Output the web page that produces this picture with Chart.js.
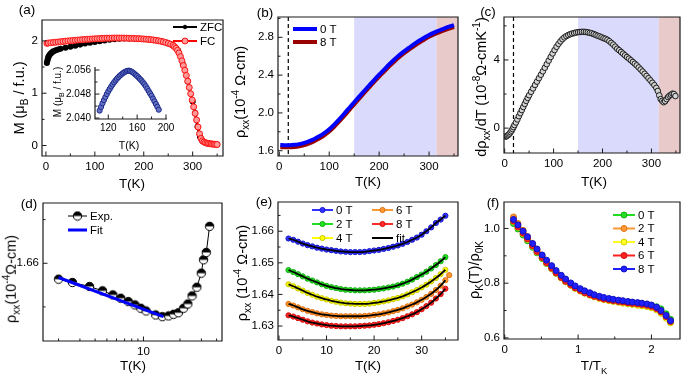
<!DOCTYPE html>
<html>
<head>
<meta charset="utf-8">
<script src="https://cdn.jsdelivr.net/npm/chart.js@4.4.1/dist/chart.umd.min.js"></script>
<style>
  body { margin: 0; background: #fff; }
  #fig { position: relative; width: 685px; height: 376px; overflow: hidden; font-family: "Liberation Sans", Arial, sans-serif; color: #000; }
  #fig canvas { position: absolute; left: 0; top: 0; }
  .lbl { position: absolute; white-space: nowrap; transform: translate(-50%, -50%); line-height: 1; font-size: 13.5px; }
  .rot { transform: translate(-50%, -50%) rotate(-90deg); font-size: 14.5px; }
  sub, sup { font-size: 70%; line-height: 0; }
</style>
</head>
<body>
<div id="fig">
  <canvas id="ca" width="685" height="376"></canvas>
  <canvas id="cin" width="685" height="376"></canvas>
  <canvas id="cb" width="685" height="376"></canvas>
  <canvas id="cc" width="685" height="376"></canvas>
  <canvas id="cd" width="685" height="376"></canvas>
  <canvas id="ce" width="685" height="376"></canvas>
  <canvas id="cf" width="685" height="376"></canvas>

  <div class="lbl" style="left:27px;top:10px">(a)</div>
  <div class="lbl rot" style="left:19px;top:98px">M (μ<sub>B</sub> / f.u.)</div>
  <div class="lbl" style="left:132px;top:184px">T(K)</div>
  <div class="lbl rot" style="left:58px;top:92px;font-size:10px">M (μ<sub>B</sub> / f.u.)</div>
  <div class="lbl" style="left:129px;top:145px;font-size:10.5px">T(K)</div>

  <div class="lbl" style="left:265px;top:13px">(b)</div>
  <div class="lbl rot" style="left:240px;top:92px">ρ<sub>xx</sub>(10<sup>-4</sup> Ω-cm)</div>
  <div class="lbl" style="left:368px;top:182px">T(K)</div>

  <div class="lbl" style="left:488px;top:12px">(c)</div>
  <div class="lbl rot" style="left:481px;top:87px">dρ<sub>xx</sub>/dT (10<sup>-8</sup>Ω-cmK<sup>-1</sup>)</div>
  <div class="lbl" style="left:594px;top:182px">T(K)</div>

  <div class="lbl" style="left:29px;top:204px">(d)</div>
  <div class="lbl rot" style="left:11px;top:279px">ρ<sub>xx</sub>(10<sup>-4</sup>Ω-cm)</div>
  <div class="lbl" style="left:133px;top:366px">T(K)</div>

  <div class="lbl" style="left:264px;top:202px">(e)</div>
  <div class="lbl rot" style="left:242px;top:273px">ρ<sub>xx</sub> (10<sup>-4</sup> Ω-cm)</div>
  <div class="lbl" style="left:368px;top:366px">T(K)</div>

  <div class="lbl" style="left:493px;top:203px">(f)</div>
  <div class="lbl rot" style="left:474px;top:270px">ρ<sub>K</sub>(T)/ρ<sub>0K</sub></div>
  <div class="lbl" style="left:594px;top:366px">T/T<sub>K</sub></div>
</div>

<script>
// (a) M vs T, ZFC / FC
const tFc = [2, 5, 10, 15, 20, 25, 30, 35, 40, 45, 50, 55, 60, 65, 70, 75, 80, 85, 90, 95, 100, 105, 110, 115, 120, 125, 130, 135, 140, 145, 150, 155, 160, 165, 170, 175, 180, 185, 190, 195, 200, 205, 210, 215, 220, 225, 230, 235, 240, 245, 250, 255, 260, 263, 266, 269, 272, 275, 278, 281, 284, 287, 290, 293, 296, 299, 302, 305, 308, 311, 314, 317, 320, 323, 326, 329, 332, 335, 338, 341, 344, 347, 350];
const mFc = [1.955, 1.96, 1.965, 1.97, 1.975, 1.98, 1.985, 1.99, 1.995, 2.0, 2.004, 2.008, 2.012, 2.016, 2.02, 2.024, 2.028, 2.031, 2.034, 2.037, 2.04, 2.043, 2.046, 2.048, 2.05, 2.052, 2.053, 2.054, 2.055, 2.056, 2.056, 2.055, 2.054, 2.053, 2.051, 2.049, 2.047, 2.045, 2.043, 2.04, 2.037, 2.033, 2.029, 2.024, 2.018, 2.011, 2.003, 1.994, 1.983, 1.97, 1.955, 1.937, 1.915, 1.89, 1.86, 1.82, 1.77, 1.70, 1.62, 1.53, 1.44, 1.34, 1.23, 1.11, 0.99, 0.87, 0.74, 0.615, 0.49, 0.355, 0.225, 0.135, 0.09, 0.067, 0.055, 0.046, 0.04, 0.035, 0.031, 0.028, 0.025, 0.022, 0.02];
const tZfc = [2, 3, 4, 5, 6, 8, 10, 12, 15, 20, 25, 30, 40, 50, 60, 70, 80, 90, 100, 110, 120, 130, 140, 150, 160, 170, 180, 190, 200, 210, 220, 230, 240, 250, 260, 270, 280, 290, 300, 305, 310, 315, 320, 330, 340, 350];
const mZfc = [1.58, 1.62, 1.66, 1.69, 1.71, 1.74, 1.76, 1.78, 1.80, 1.82, 1.835, 1.85, 1.87, 1.89, 1.91, 1.93, 1.95, 1.965, 1.98, 1.995, 2.01, 2.022, 2.033, 2.042, 2.046, 2.046, 2.044, 2.04, 2.035, 2.027, 2.016, 2.001, 1.981, 1.952, 1.91, 1.815, 1.555, 1.225, 0.84, 0.62, 0.36, 0.17, 0.085, 0.04, 0.028, 0.02];
// inset of (a)
const tIn = [108, 110, 112, 114, 116, 118, 120, 122, 124, 126, 128, 130, 132, 134, 136, 138, 140, 142, 144, 146, 148, 150, 152, 154, 156, 158, 160, 162, 164, 166, 168, 170, 172, 174, 176, 178, 180, 182, 184, 186, 188, 190];
const mIn = [2.0425, 2.0437, 2.0449, 2.0460, 2.0470, 2.0480, 2.0489, 2.0497, 2.0505, 2.0512, 2.0519, 2.0525, 2.0531, 2.0536, 2.0541, 2.0545, 2.0549, 2.0552, 2.0555, 2.0557, 2.0558, 2.0557, 2.0555, 2.0552, 2.0548, 2.0544, 2.0540, 2.0535, 2.0530, 2.0525, 2.0519, 2.0513, 2.0506, 2.0498, 2.0490, 2.0482, 2.0474, 2.0465, 2.0456, 2.0447, 2.0438, 2.0428];

// (b) rho_xx vs T at 0 T and 8 T
const tB = [2, 10, 20, 30, 40, 50, 60, 70, 80, 90, 100, 110, 120, 130, 140, 150, 160, 170, 180, 190, 200, 210, 220, 230, 240, 250, 260, 270, 280, 290, 300, 310, 320, 330, 340, 350];
const rho0T = [1.660, 1.659, 1.659, 1.662, 1.670, 1.683, 1.701, 1.724, 1.752, 1.786, 1.826, 1.876, 1.932, 1.991, 2.052, 2.113, 2.173, 2.232, 2.290, 2.348, 2.404, 2.458, 2.513, 2.563, 2.610, 2.652, 2.690, 2.728, 2.763, 2.795, 2.825, 2.850, 2.872, 2.893, 2.912, 2.930];
const rho8T = [1.637, 1.636, 1.636, 1.639, 1.647, 1.660, 1.678, 1.701, 1.729, 1.763, 1.803, 1.853, 1.909, 1.968, 2.029, 2.090, 2.151, 2.211, 2.270, 2.328, 2.384, 2.438, 2.492, 2.542, 2.589, 2.631, 2.670, 2.708, 2.743, 2.775, 2.805, 2.830, 2.852, 2.873, 2.892, 2.910];

// (c) d rho / dT
const tC = [2, 4, 6, 8, 10, 12, 14, 16, 18, 20, 23, 26, 29, 32, 35, 38, 41, 44, 47, 50, 54, 58, 62, 66, 70, 74, 78, 82, 86, 90, 94, 98, 102, 106, 110, 114, 118, 122, 126, 130, 134, 138, 142, 146, 150, 154, 158, 162, 166, 170, 174, 178, 182, 186, 190, 194, 198, 202, 206, 210, 214, 218, 222, 226, 230, 234, 238, 242, 246, 250, 254, 258, 262, 266, 270, 274, 278, 282, 286, 290, 294, 298, 302, 306, 310, 313, 316, 319, 322, 325, 328, 331, 334, 337, 340, 343, 346, 349];
const dRho = [-0.50, -0.47, -0.43, -0.38, -0.32, -0.24, -0.15, -0.05, 0.06, 0.18, 0.33, 0.51, 0.70, 0.88, 1.06, 1.24, 1.42, 1.60, 1.77, 1.93, 2.13, 2.33, 2.53, 2.73, 2.93, 3.13, 3.33, 3.54, 3.75, 3.96, 4.17, 4.38, 4.58, 4.77, 4.94, 5.09, 5.22, 5.32, 5.40, 5.46, 5.51, 5.55, 5.58, 5.61, 5.63, 5.64, 5.65, 5.65, 5.64, 5.62, 5.59, 5.56, 5.52, 5.47, 5.42, 5.38, 5.33, 5.28, 5.24, 5.18, 5.10, 5.00, 4.90, 4.78, 4.66, 4.57, 4.47, 4.37, 4.27, 4.17, 4.08, 3.98, 3.88, 3.78, 3.68, 3.56, 3.44, 3.32, 3.19, 3.06, 2.93, 2.80, 2.66, 2.52, 2.36, 2.18, 1.92, 1.70, 1.60, 1.52, 1.58, 1.70, 1.82, 1.90, 1.96, 2.02, 2.00, 1.88];
const bandaAzul = [150, 315];
const bandaRoja = [315, 360];
const tLinea = 18;

// (d) low T upturn, log scale
const tD = [2.0, 2.6, 3.6, 4.6, 5.6, 6.5, 7.5, 8.5, 9.5, 10.5, 12.6, 14.3, 16.1, 17.7, 19.4, 21.4, 23.2, 25.1, 27.5, 29.9, 31.2, 32.9, 35.0];
const rhoD = [1.65818, 1.6578, 1.65734, 1.65684, 1.65638, 1.656, 1.65561, 1.65523, 1.65485, 1.65454, 1.65408, 1.65389, 1.65397, 1.65416, 1.65434, 1.65485, 1.65534, 1.65626, 1.65726, 1.65887, 1.6604, 1.66124, 1.66423];
const tFit = [2.0, 14.6];
const rhoFit = [1.65837, 1.65389];

// (e) rho_xx at several fields
const campos = ['0 T', '2 T', '4 T', '6 T', '8 T'];
const tE = [2, 3, 4, 5, 6, 7, 8, 9, 10, 11, 12, 13, 14, 15, 16, 17, 18, 19, 20, 21, 22, 23, 24, 25, 26, 27, 28, 29, 30, 31, 32, 33, 34, 35];
const e0 = [1.6577, 1.6573, 1.6567, 1.6561, 1.6556, 1.6552, 1.6548, 1.6545, 1.6542, 1.6540, 1.6538, 1.6536, 1.6535, 1.6534, 1.6534, 1.6534, 1.6535, 1.6537, 1.6539, 1.6541, 1.6544, 1.6547, 1.6551, 1.6555, 1.6560, 1.6566, 1.6573, 1.6580, 1.6589, 1.6600, 1.6612, 1.6626, 1.6637, 1.6649];
const e2 = [1.6477, 1.6471, 1.6464, 1.6457, 1.6450, 1.6444, 1.6438, 1.6432, 1.6427, 1.6423, 1.6420, 1.6417, 1.6415, 1.6414, 1.6413, 1.6413, 1.6413, 1.6414, 1.6415, 1.6417, 1.6419, 1.6422, 1.6425, 1.6429, 1.6434, 1.6440, 1.6447, 1.6455, 1.6463, 1.6472, 1.6482, 1.6493, 1.6505, 1.6518];
const e4 = [1.6432, 1.6426, 1.6419, 1.6412, 1.6405, 1.6399, 1.6393, 1.6388, 1.6384, 1.6380, 1.6377, 1.6374, 1.6372, 1.6371, 1.6370, 1.6370, 1.6370, 1.6371, 1.6373, 1.6375, 1.6378, 1.6381, 1.6385, 1.6389, 1.6394, 1.6400, 1.6407, 1.6414, 1.6422, 1.6431, 1.6441, 1.6452, 1.6464, 1.6478];
const e6 = [1.6370, 1.6365, 1.6359, 1.6353, 1.6348, 1.6344, 1.6340, 1.6337, 1.6335, 1.6333, 1.6332, 1.6331, 1.6331, 1.6331, 1.6331, 1.6331, 1.6332, 1.6333, 1.6335, 1.6337, 1.6340, 1.6343, 1.6347, 1.6351, 1.6356, 1.6362, 1.6368, 1.6375, 1.6383, 1.6392, 1.6402, 1.6414, 1.6428, 1.6445];
const e8 = [1.6334, 1.6330, 1.6325, 1.6320, 1.6315, 1.6311, 1.6308, 1.6305, 1.6303, 1.6301, 1.6300, 1.6299, 1.6299, 1.6299, 1.6299, 1.6300, 1.6301, 1.6302, 1.6304, 1.6306, 1.6309, 1.6312, 1.6316, 1.6320, 1.6325, 1.6331, 1.6337, 1.6344, 1.6353, 1.6363, 1.6374, 1.6387, 1.6401, 1.6418];
const t6Extra = [35.8];
const e6Extra = [1.6461];

// (f) scaled Kondo term
const xF = [0.12, 0.18, 0.25, 0.31, 0.38, 0.44, 0.51, 0.57, 0.64, 0.70, 0.77, 0.83, 0.90, 0.96, 1.03, 1.09, 1.16, 1.22, 1.29, 1.35, 1.42, 1.48, 1.55, 1.61, 1.68, 1.74, 1.81, 1.87, 1.94, 2.00, 2.07, 2.13, 2.20, 2.26];
const f0 = [1.018, 0.998, 0.976, 0.955, 0.931, 0.911, 0.890, 0.872, 0.853, 0.836, 0.820, 0.806, 0.793, 0.782, 0.773, 0.765, 0.759, 0.753, 0.748, 0.744, 0.741, 0.738, 0.736, 0.734, 0.731, 0.729, 0.727, 0.725, 0.722, 0.719, 0.714, 0.706, 0.688, 0.668];
const f2 = [1.042, 1.018, 0.993, 0.970, 0.944, 0.922, 0.899, 0.879, 0.859, 0.841, 0.824, 0.810, 0.796, 0.785, 0.775, 0.767, 0.760, 0.754, 0.748, 0.744, 0.740, 0.737, 0.734, 0.732, 0.729, 0.727, 0.725, 0.723, 0.720, 0.716, 0.708, 0.696, 0.678, 0.660];
const f4 = [1.025, 1.004, 0.981, 0.960, 0.935, 0.914, 0.892, 0.873, 0.853, 0.836, 0.819, 0.805, 0.792, 0.781, 0.771, 0.763, 0.756, 0.750, 0.744, 0.740, 0.736, 0.733, 0.730, 0.727, 0.724, 0.722, 0.719, 0.717, 0.714, 0.710, 0.702, 0.690, 0.672, 0.655];
const f6 = [1.027, 1.006, 0.983, 0.962, 0.937, 0.916, 0.894, 0.875, 0.855, 0.838, 0.821, 0.807, 0.794, 0.783, 0.773, 0.765, 0.758, 0.752, 0.747, 0.742, 0.739, 0.736, 0.733, 0.731, 0.728, 0.726, 0.724, 0.722, 0.719, 0.715, 0.707, 0.695, 0.678, 0.660];
const f8 = [1.033, 1.013, 0.990, 0.970, 0.945, 0.925, 0.903, 0.884, 0.864, 0.846, 0.829, 0.815, 0.801, 0.790, 0.780, 0.772, 0.765, 0.758, 0.752, 0.748, 0.744, 0.741, 0.738, 0.736, 0.733, 0.731, 0.729, 0.727, 0.724, 0.720, 0.712, 0.700, 0.682, 0.663];

const fuente = '"Liberation Sans", Arial, sans-serif';
Chart.defaults.font.family = fuente;
Chart.defaults.font.size = 11.5;
Chart.defaults.color = '#000';
Chart.defaults.animation = false;
Chart.defaults.responsive = false;
Chart.defaults.events = [];
Chart.defaults.plugins.legend.display = false;
Chart.defaults.plugins.tooltip.enabled = false;

function pares(xs, ys) {
    return xs.map((x, i) => ({ x: x, y: ys[i] }));
}

function eje(min, max, valores, fmt, tipo) {
    return {
        type: tipo || 'linear',
        min: min,
        max: max,
        grid: { display: false, drawTicks: false },
        border: { display: false },
        afterBuildTicks: s => { s.ticks = valores.map(v => ({ value: v })); },
        ticks: { callback: fmt, padding: 4, maxRotation: 0, autoSkip: false }
    };
}

// caja interna con marcas hacia adentro
function marco(xMenor, yMenor, soloL) {
    return {
        id: 'marco',
        afterDraw(chart) {
            const { ctx, chartArea: a, scales } = chart;
            ctx.save();
            ctx.strokeStyle = '#1a1a1a';
            ctx.lineWidth = 1.2;
            ctx.beginPath();
            if (soloL) {
                ctx.moveTo(a.left, a.top);
                ctx.lineTo(a.left, a.bottom);
                ctx.lineTo(a.right, a.bottom);
            } else {
                ctx.rect(a.left, a.top, a.right - a.left, a.bottom - a.top);
            }
            ctx.stroke();
            ctx.lineWidth = 1;
            const marcaX = (v, largo) => {
                const px = scales.x.getPixelForValue(v);
                if (px < a.left - 0.5 || px > a.right + 0.5) return;
                ctx.beginPath(); ctx.moveTo(px, a.bottom); ctx.lineTo(px, a.bottom - largo); ctx.stroke();
            };
            const marcaY = (v, largo) => {
                const py = scales.y.getPixelForValue(v);
                if (py < a.top - 0.5 || py > a.bottom + 0.5) return;
                ctx.beginPath(); ctx.moveTo(a.left, py); ctx.lineTo(a.left + largo, py); ctx.stroke();
            };
            scales.x.ticks.forEach(t => marcaX(t.value, 4.5));
            scales.y.ticks.forEach(t => marcaY(t.value, 4.5));
            xMenor.forEach(v => marcaX(v, 2.5));
            yMenor.forEach(v => marcaY(v, 2.5));
            ctx.restore();
        }
    };
}

function bandas() {
    return {
        id: 'bandas',
        beforeDatasetsDraw(chart) {
            const { ctx, chartArea: a, scales } = chart;
            const x = scales.x;
            ctx.save();
            ctx.fillStyle = '#dadafc';
            ctx.fillRect(x.getPixelForValue(bandaAzul[0]), a.top, x.getPixelForValue(bandaAzul[1]) - x.getPixelForValue(bandaAzul[0]), a.bottom - a.top);
            ctx.fillStyle = '#e8caca';
            const r0 = x.getPixelForValue(bandaRoja[0]);
            ctx.fillRect(r0, a.top, a.right - r0, a.bottom - a.top);
            const px = x.getPixelForValue(tLinea);
            ctx.strokeStyle = '#000';
            ctx.lineWidth = 1.2;
            ctx.setLineDash([4, 3]);
            ctx.beginPath(); ctx.moveTo(px, a.top); ctx.lineTo(px, a.bottom); ctx.stroke();
            ctx.restore();
        }
    };
}

function leyenda(items, largo) {
    return {
        id: 'leyenda',
        afterDraw(chart) {
            const ctx = chart.ctx;
            ctx.save();
            items.forEach(it => {
                const ds = chart.data.datasets[it.ds];
                ctx.strokeStyle = ds.borderColor;
                ctx.lineWidth = it.lw || ds.borderWidth;
                ctx.beginPath();
                ctx.moveTo(it.x, it.y);
                ctx.lineTo(it.x + largo, it.y);
                ctx.stroke();
                const cx = it.x + largo / 2;
                if (ds.pointStyle instanceof HTMLCanvasElement) {
                    ctx.drawImage(ds.pointStyle, cx - ds.pointStyle.width / 2, it.y - ds.pointStyle.height / 2);
                } else if (ds.pointRadius > 0) {
                    ctx.beginPath();
                    ctx.arc(cx, it.y, ds.pointRadius, 0, 2 * Math.PI);
                    ctx.fillStyle = ds.pointBackgroundColor;
                    ctx.fill();
                    ctx.lineWidth = 1;
                    ctx.strokeStyle = ds.pointBorderColor;
                    ctx.stroke();
                }
                ctx.fillStyle = '#000';
                ctx.font = '11.5px ' + fuente;
                ctx.textBaseline = 'middle';
                ctx.fillText(it.texto, it.x + largo + 3, it.y + 0.5);
            });
            ctx.restore();
        }
    };
}

function grafico(id, caja, escX, escY, datasets, plugins) {
    const [l, t, r, b] = caja;
    const yw = 34, xh = 20;
    escX.afterFit = s => { s.height = xh; };
    escY.afterFit = s => { s.width = yw; };
    return new Chart(document.getElementById(id), {
        type: 'scatter',
        data: { datasets: datasets },
        options: {
            layout: { padding: { left: l - yw, top: t, right: 685 - r, bottom: 376 - b - xh } },
            scales: { x: escX, y: escY }
        },
        plugins: plugins
    });
}

const entero = v => String(v);
const uno = v => v.toFixed(1);

// (a)
grafico('ca', [42, 20, 223, 156],
    eje(-8, 362, [0, 100, 200, 300], entero),
    eje(-0.2, 2.4, [0, 1, 2], entero),
    [
        { data: pares(tFc, mFc), showLine: true, borderColor: '#ff0000', borderWidth: 1.5, pointRadius: 3, pointBorderColor: '#ff1010', pointBackgroundColor: '#ff9a9a', pointBorderWidth: 1, order: 0 },
        { data: pares(tZfc, mZfc), showLine: true, borderColor: '#000', borderWidth: 2.5, pointRadius: 1.8, pointBorderColor: '#000', pointBackgroundColor: '#000', order: 1 }
    ],
    [marco([50, 150, 250, 350], [0.5, 1.5]), leyenda([
        { ds: 1, x: 173, y: 27, texto: 'ZFC', lw: 2 },
        { ds: 0, x: 173, y: 41, texto: 'FC', lw: 2 }
    ], 24)]);

// inset (a)
const escInX = eje(101.6, 201.4, [120, 160, 200], entero);
const escInY = eje(2.0397, 2.057, [2.040, 2.048, 2.056], v => v.toFixed(3));
escInX.ticks.font = { size: 10 };
escInY.ticks.font = { size: 10 };
escInX.ticks.padding = 3;
grafico('cin', [95, 67, 167, 119], escInX, escInY,
    [{ data: pares(tIn, mIn), showLine: false, pointRadius: 2.6, pointBorderColor: '#1c2a8c', pointBackgroundColor: '#6673c4', pointBorderWidth: 1 }],
    [marco([140, 180], [2.044, 2.052], true)]);

// (b)
grafico('cb', [278, 17, 458, 156],
    eje(-2.6, 358, [0, 100, 200, 300], entero),
    eje(1.544, 3.015, [1.6, 2.0, 2.4, 2.8], uno),
    [
        { data: pares(tB, rho0T), showLine: true, borderColor: '#0000ff', borderWidth: 4, pointRadius: 0, cubicInterpolationMode: 'monotone', order: 0 },
        { data: pares(tB, rho8T), showLine: true, borderColor: '#990000', borderWidth: 4, pointRadius: 0, cubicInterpolationMode: 'monotone', order: 1 }
    ],
    [bandas(), marco([50, 150, 250, 350], [1.8, 2.2, 2.6, 3.0]), leyenda([
        { ds: 0, x: 293, y: 29, texto: '0 T' },
        { ds: 1, x: 293, y: 42, texto: '8 T' }
    ], 24)]);

// (c)
grafico('cc', [504, 17, 683, 153],
    eje(-1.4, 358.4, [0, 100, 200, 300], entero),
    eje(-1.46, 6.52, [0, 4], entero),
    [{ data: pares(tC, dRho), showLine: false, pointRadius: 2.8, pointBorderColor: '#1a1a1a', pointBackgroundColor: '#d4d4d4', pointBorderWidth: 1 }],
    [bandas(), marco([50, 150, 250, 350], [2, 6])]);

// (d) marcador mitad lleno
const mitad = document.createElement('canvas');
mitad.width = 11; mitad.height = 11;
const g = mitad.getContext('2d');
g.beginPath(); g.arc(5.5, 5.5, 4.2, 0, 2 * Math.PI); g.fillStyle = '#fff'; g.fill();
g.beginPath(); g.arc(5.5, 5.5, 4.2, Math.PI, 2 * Math.PI); g.fillStyle = '#000'; g.fill();
g.beginPath(); g.arc(5.5, 5.5, 4.2, 0, 2 * Math.PI); g.strokeStyle = '#000'; g.lineWidth = 1; g.stroke();

grafico('cd', [43, 203, 222, 341],
    eje(1.49, 44.3, [10], entero, 'logarithmic'),
    eje(1.6511, 1.6669, [1.66], v => v.toFixed(2)),
    [
        { data: pares(tFit, rhoFit), showLine: true, borderColor: '#0000ff', borderWidth: 3, pointRadius: 0, order: 0 },
        { data: pares(tD, rhoD), showLine: true, borderColor: '#000', borderWidth: 1, pointStyle: mitad, pointRadius: 4.5, order: 1 }
    ],
    [marco([2, 3, 4, 5, 6, 7, 8, 9, 20, 30, 40], [1.655, 1.665]), leyenda([
        { ds: 1, x: 68, y: 216, texto: 'Exp.' },
        { ds: 0, x: 68, y: 230, texto: 'Fit' }
    ], 19)]);

// (e)
const colE = ['#3030ff', '#22e022', '#ffff00', '#ff9933', '#ff2a2a'];
const bordeE = ['#1a1ad0', '#14b014', '#c8c800', '#e07010', '#d81010'];
const serieE = [e0, e2, e4, e6, e8];
const dsE = serieE.map((s, i) => {
    const xs = i === 3 ? tE.concat(t6Extra) : tE;
    const ys = i === 3 ? s.concat(e6Extra) : s;
    return { data: pares(xs, ys), showLine: true, borderColor: colE[i], borderWidth: 1, pointRadius: 2.6, pointBackgroundColor: colE[i], pointBorderColor: bordeE[i], pointBorderWidth: 1, order: 2 };
});
serieE.forEach(s => {
    dsE.push({ data: pares(tE, s), showLine: true, borderColor: '#000', borderWidth: 1.8, pointRadius: 0, tension: 0.4, order: 0 });
});
grafico('ce', [278, 202, 458, 340],
    eje(-0.21, 37.65, [0, 10, 20, 30], entero),
    eje(1.62558, 1.66925, [1.63, 1.64, 1.65, 1.66], v => v.toFixed(2)),
    dsE,
    [marco([5, 15, 25, 35], [1.635, 1.645, 1.655, 1.665]), leyenda([
        { ds: 0, x: 312, y: 210, texto: campos[0], lw: 2 },
        { ds: 1, x: 312, y: 224, texto: campos[1], lw: 2 },
        { ds: 2, x: 312, y: 238, texto: campos[2], lw: 2 },
        { ds: 3, x: 372, y: 210, texto: campos[3], lw: 2 },
        { ds: 4, x: 372, y: 224, texto: campos[4], lw: 2 },
        { ds: 5, x: 372, y: 238, texto: 'fit', lw: 2 }
    ], 21)]);

// (f)
const colF = ['#22dd22', '#ff9933', '#ffff22', '#ff2020', '#2020ff'];
const bordeF = ['#14b014', '#e07010', '#d0d000', '#d01010', '#1010c0'];
const serieF = [f0, f2, f4, f6, f8];
const dsF = serieF.map((s, i) => ({
    data: pares(xF, s), showLine: true, borderColor: colF[i], borderWidth: 1, pointRadius: 3,
    pointBackgroundColor: colF[i], pointBorderColor: bordeF[i], pointBorderWidth: 1, order: 4 - i
}));
grafico('cf', [504, 202, 683, 339],
    eje(-0.01, 2.389, [0, 1, 2], entero),
    eje(0.596, 1.0967, [0.6, 0.8, 1.0], uno),
    dsF,
    [marco([0.5, 1.5], [0.7, 0.9]), leyenda(campos.map((c, i) => ({ ds: i, x: 613, y: 215 + i * 13.5, texto: c, lw: 2 })), 22)]);
</script>
</body>
</html>
